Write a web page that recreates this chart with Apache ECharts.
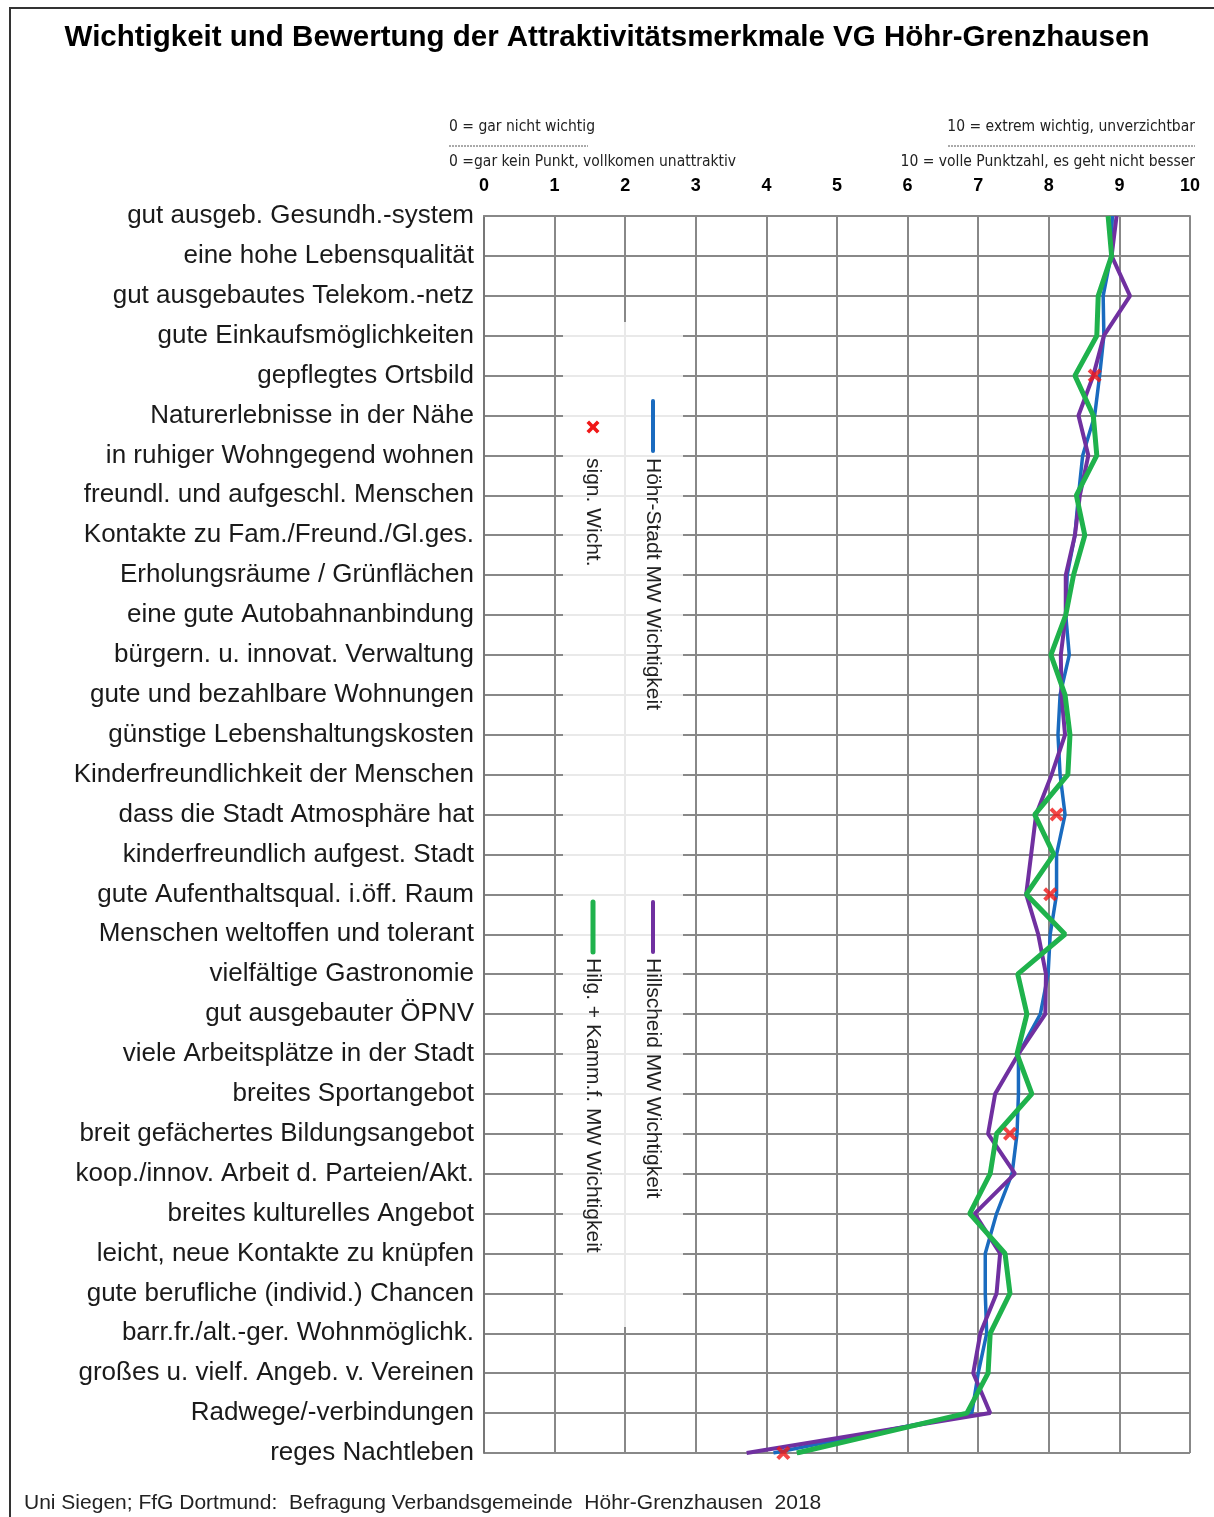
<!DOCTYPE html>
<html>
<head>
<meta charset="utf-8">
<script src="https://cdn.jsdelivr.net/npm/echarts@6/dist/echarts.min.js"></script>
<style>
  html, body { margin: 0; padding: 0; background: #fff; }
  #chart { width: 1214px; height: 1517px; }
</style>
</head>
<body>
<div id="chart"></div>
<script>
// Merkmale, von oben nach unten
var merkmale = [
    'gut ausgeb. Gesundh.-system',
    'eine hohe Lebensqualität',
    'gut ausgebautes Telekom.-netz',
    'gute Einkaufsmöglichkeiten',
    'gepflegtes Ortsbild',
    'Naturerlebnisse in der Nähe',
    'in ruhiger Wohngegend wohnen',
    'freundl. und aufgeschl. Menschen',
    'Kontakte zu Fam./Freund./Gl.ges.',
    'Erholungsräume / Grünflächen',
    'eine gute Autobahnanbindung',
    'bürgern. u. innovat. Verwaltung',
    'gute und bezahlbare Wohnungen',
    'günstige Lebenshaltungskosten',
    'Kinderfreundlichkeit der Menschen',
    'dass die Stadt Atmosphäre hat',
    'kinderfreundlich aufgest. Stadt',
    'gute Aufenthaltsqual. i.öff. Raum',
    'Menschen weltoffen und tolerant',
    'vielfältige Gastronomie',
    'gut ausgebauter ÖPNV',
    'viele Arbeitsplätze in der Stadt',
    'breites Sportangebot',
    'breit gefächertes Bildungsangebot',
    'koop./innov. Arbeit d. Parteien/Akt.',
    'breites kulturelles Angebot',
    'leicht, neue Kontakte zu knüpfen',
    'gute berufliche (individ.) Chancen',
    'barr.fr./alt.-ger. Wohnmöglichk.',
    'großes u. vielf. Angeb. v. Vereinen',
    'Radwege/-verbindungen',
    'reges Nachtleben'
];

// Mittelwerte Wichtigkeit
var hoehrStadt = [8.90, 8.88, 8.77, 8.78, 8.72, 8.65, 8.48, 8.42, 8.37, 8.26, 8.24, 8.29, 8.16, 8.13, 8.16, 8.23,
    8.11, 8.11, 8.02, 7.99, 7.88, 7.57, 7.57, 7.55, 7.48, 7.26, 7.10, 7.10, 7.12, 7.00, 6.91, 4.10];
var hillscheid = [8.96, 8.89, 9.15, 8.78, 8.63, 8.42, 8.56, 8.44, 8.37, 8.24, 8.24, 8.17, 8.18, 8.23, 8.04, 7.82,
    7.75, 7.68, 7.85, 7.96, 7.95, 7.57, 7.24, 7.14, 7.52, 6.95, 7.31, 7.26, 7.03, 6.93, 7.17, 3.72];
var hilgKamm = [8.84, 8.89, 8.70, 8.68, 8.37, 8.63, 8.68, 8.39, 8.51, 8.35, 8.24, 8.03, 8.23, 8.30, 8.27, 7.80,
    8.07, 7.68, 8.23, 7.56, 7.69, 7.55, 7.76, 7.26, 7.17, 6.88, 7.38, 7.45, 7.17, 7.14, 6.84, 4.43];
// signifikante Wichtigkeit (nur einzelne Merkmale)
var signWicht = ['-', '-', '-', '-', 8.65, '-', '-', '-', '-', '-', '-', '-', '-', '-', '-', 8.11,
    '-', 8.02, '-', '-', '-', '-', '-', 7.45, '-', '-', '-', '-', '-', '-', '-', 4.24];

var skalaTicks = ['0', '1', '2', '3', '4', '5', '6', '7', '8', '9', '10'];

var kreuz = 'path://M0,2L2,0L5,3L8,0L10,2L7,5L10,8L8,10L5,7L2,10L0,8L3,5Z';
var schmal = '"Liberation Sans Narrow", "DejaVu Sans Condensed", "Liberation Sans", sans-serif';
var arial = '"Liberation Sans", Arial, sans-serif';

// kleines Kreuz fuer die Legende
function kreuzPunkte(cx, cy, r) {
    var p = [[-5, -3], [-3, -5], [0, -2], [3, -5], [5, -3], [2, 0], [5, 3], [3, 5], [0, 2], [-3, 5], [-5, 3], [-2, 0]];
    return p.map(function (q) { return [cx + q[0] * r / 5, cy + q[1] * r / 5]; });
}

var chart = echarts.init(document.getElementById('chart'));

chart.setOption({
    animation: false,
    backgroundColor: '#fff',
    textStyle: { fontFamily: arial },
    title: {
        text: 'Wichtigkeit und Bewertung der Attraktivitätsmerkmale VG Höhr-Grenzhausen',
        left: 'center',
        top: 18,
        textStyle: { fontFamily: arial, fontSize: 29.5, fontWeight: 'bold', color: '#000' }
    },
    grid: { left: 484, right: 24, top: 216, bottom: 64, containLabel: false },
    xAxis: {
        type: 'value',
        position: 'top',
        min: 0,
        max: 10,
        interval: 1,
        axisLine: { show: true, lineStyle: { color: '#888', width: 2 } },
        axisTick: { show: false },
        axisLabel: {
            margin: 21,
            fontSize: 18,
            fontWeight: 'bold',
            color: '#000',
            formatter: function (v) { return skalaTicks[v]; }
        },
        splitLine: { show: true, lineStyle: { color: '#888', width: 2 } }
    },
    yAxis: {
        type: 'category',
        data: merkmale,
        inverse: true,
        boundaryGap: false,
        axisLine: { show: true, lineStyle: { color: '#777', width: 2 } },
        axisTick: { show: false },
        axisLabel: { interval: 0, margin: 10, fontSize: 26, color: '#1a1a1a' },
        splitLine: { show: true, interval: 0, lineStyle: { color: '#888', width: 2 } }
    },
    series: [
        {
            name: 'Höhr-Stadt MW Wichtigkeit',
            type: 'line',
            data: hoehrStadt,
            symbol: 'none',
            z: 3,
            lineStyle: { color: '#1a6bbf', width: 3.5 }
        },
        {
            name: 'Hillscheid MW Wichtigkeit',
            type: 'line',
            data: hillscheid,
            symbol: 'none',
            z: 4,
            lineStyle: { color: '#7030a0', width: 4 }
        },
        {
            name: 'Hilg. + Kamm.f. MW Wichtigkeit',
            type: 'line',
            data: hilgKamm,
            symbol: 'none',
            z: 5,
            lineStyle: { color: '#1fb24c', width: 5 }
        },
        {
            name: 'sign. Wicht.',
            type: 'scatter',
            data: signWicht,
            symbol: kreuz,
            symbolSize: 14,
            z: 6,
            itemStyle: { color: '#f01818' }
        }
    ],
    graphic: [
        // Rahmen
        { type: 'rect', z: 10, shape: { x: 10, y: 8, width: 1214, height: 1530 },
          style: { fill: null, stroke: '#333', lineWidth: 2 } },
        // Legendenfeld
        { type: 'rect', z: 1, shape: { x: 563, y: 322, width: 120, height: 1005 },
          style: { fill: 'rgba(255,255,255,0.82)' } },
        { type: 'line', z: 2, shape: { x1: 653, y1: 401, x2: 653, y2: 451 },
          style: { stroke: '#1a6bbf', lineWidth: 4, lineCap: 'round' } },
        { type: 'text', z: 2, x: 653, y: 458, rotation: -Math.PI / 2,
          style: { text: 'Höhr-Stadt MW Wichtigkeit', font: '21px ' + arial, fill: '#222',
                   textAlign: 'left', textVerticalAlign: 'middle' } },
        { type: 'polygon', z: 2, shape: { points: kreuzPunkte(593, 427, 6.5) },
          style: { fill: '#f01818' } },
        { type: 'text', z: 2, x: 593, y: 458, rotation: -Math.PI / 2,
          style: { text: 'sign. Wicht.', font: '21px ' + arial, fill: '#222',
                   textAlign: 'left', textVerticalAlign: 'middle' } },
        { type: 'line', z: 2, shape: { x1: 593, y1: 902, x2: 593, y2: 952 },
          style: { stroke: '#1fb24c', lineWidth: 5, lineCap: 'round' } },
        { type: 'text', z: 2, x: 593, y: 958, rotation: -Math.PI / 2,
          style: { text: 'Hilg. + Kamm.f. MW Wichtigkeit', font: '21px ' + arial, fill: '#222',
                   textAlign: 'left', textVerticalAlign: 'middle' } },
        { type: 'line', z: 2, shape: { x1: 653, y1: 902, x2: 653, y2: 952 },
          style: { stroke: '#7030a0', lineWidth: 4, lineCap: 'round' } },
        { type: 'text', z: 2, x: 653, y: 958, rotation: -Math.PI / 2,
          style: { text: 'Hillscheid MW Wichtigkeit', font: '21px ' + arial, fill: '#222',
                   textAlign: 'left', textVerticalAlign: 'middle' } },
        // Skalenerklaerung oben
        { type: 'text', x: 449, y: 127,
          style: { text: '0 = gar nicht wichtig', font: '15.5px ' + schmal, fill: '#222',
                   textAlign: 'left', textVerticalAlign: 'middle' } },
        { type: 'line', shape: { x1: 449, y1: 146, x2: 588, y2: 146 },
          style: { stroke: '#555', lineWidth: 1, lineDash: [2, 1] } },
        { type: 'text', x: 449, y: 162,
          style: { text: '0 =gar kein Punkt, vollkomen unattraktiv', font: '15.5px ' + schmal, fill: '#222',
                   textAlign: 'left', textVerticalAlign: 'middle' } },
        { type: 'text', x: 1195, y: 127,
          style: { text: '10 = extrem wichtig, unverzichtbar', font: '15.5px ' + schmal, fill: '#222',
                   textAlign: 'right', textVerticalAlign: 'middle' } },
        { type: 'line', shape: { x1: 948, y1: 146, x2: 1195, y2: 146 },
          style: { stroke: '#555', lineWidth: 1, lineDash: [2, 1] } },
        { type: 'text', x: 1195, y: 162,
          style: { text: '10 = volle Punktzahl, es geht nicht besser', font: '15.5px ' + schmal, fill: '#222',
                   textAlign: 'right', textVerticalAlign: 'middle' } },
        // Quelle
        { type: 'text', x: 24, y: 1503,
          style: { text: 'Uni Siegen; FfG Dortmund:  Befragung Verbandsgemeinde  Höhr-Grenzhausen  2018',
                   font: '21px ' + arial, fill: '#222', textAlign: 'left', textVerticalAlign: 'middle' } }
    ]
});
</script>
</body>
</html>
